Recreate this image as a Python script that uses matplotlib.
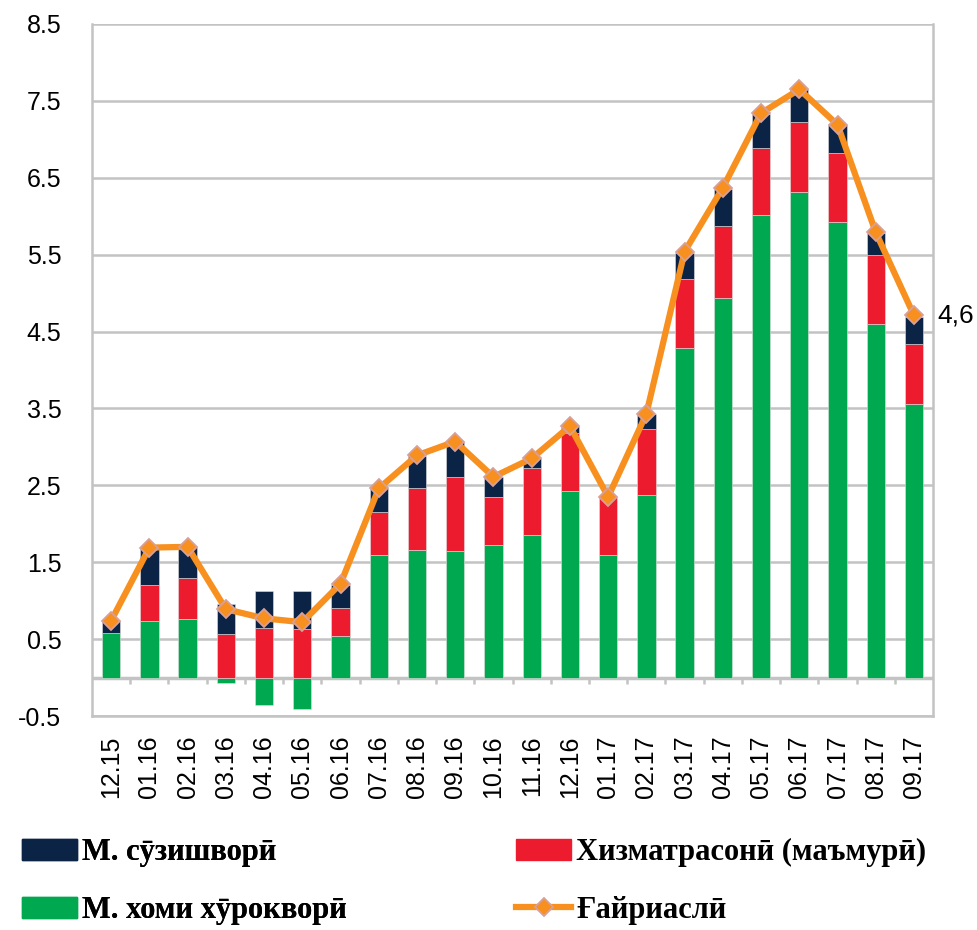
# inflation decomposition: stacked bars + non-core line
import matplotlib
matplotlib.use("Agg")
import matplotlib.pyplot as plt
from matplotlib.patches import Patch
from matplotlib.lines import Line2D
import numpy as np

months = ["12.15", "01.16", "02.16", "03.16", "04.16", "05.16", "06.16",
          "07.16", "08.16", "09.16", "10.16", "11.16", "12.16", "01.17",
          "02.17", "03.17", "04.17", "05.17", "06.17", "07.17", "08.17", "09.17"]

food = [0.58, 0.73, 0.76, -0.07, -0.36, -0.41, 0.54, 1.60, 1.66, 1.65, 1.73,
        1.85, 2.42, 1.60, 2.38, 4.28, 4.94, 6.02, 6.31, 5.92, 4.60, 3.56]
services = [0.00, 0.47, 0.54, 0.57, 0.65, 0.63, 0.37, 0.55, 0.81, 0.96, 0.62,
            0.88, 0.76, 0.75, 0.85, 0.90, 0.93, 0.87, 0.92, 0.90, 0.89, 0.78]
fuel = [0.16, 0.49, 0.40, 0.39, 0.48, 0.50, 0.30, 0.31, 0.41, 0.46, 0.26,
        0.12, 0.09, 0.00, 0.20, 0.34, 0.48, 0.44, 0.42, 0.36, 0.29, 0.35]
noncore = [0.74, 1.69, 1.70, 0.89, 0.77, 0.72, 1.22, 2.46, 2.89, 3.07, 2.61,
           2.85, 3.27, 2.35, 3.43, 5.54, 6.37, 7.34, 7.65, 7.19, 5.79, 4.71]
last_label = "4,6"

lbl_fuel = "М. сӯзишворӣ"
lbl_serv = "Хизматрасонӣ (маъмурӣ)"
lbl_food = "М. хоми хӯрокворӣ"
lbl_line = "Ғайриаслӣ"

c_navy = "#0b2344"
c_red = "#ec1c2e"
c_green = "#00a94f"
c_orange = "#f7901e"
c_grid = "#c3c3c3"

plt.rcParams['font.family'] = ['Liberation Sans', 'DejaVu Sans']

fig = plt.figure(figsize=(9.78, 9.30), dpi=100)
ax = fig.add_axes([0.0941, 0.2301, 0.860, 0.7441])

x = np.arange(len(months))
food = np.array(food)
services = np.array(services)
fuel = np.array(fuel)
base = np.clip(food, 0, None)
w = 0.48

ax.bar(x, food, w, color=c_green, edgecolor="#e0e0e0", linewidth=0.4, zorder=3)
ax.bar(x, services, w, bottom=base, color=c_red, edgecolor="#e0e0e0", linewidth=0.4, zorder=3)
ax.bar(x, fuel, w, bottom=base + services, color=c_navy, edgecolor="#e0e0e0", linewidth=0.4, zorder=3)
ax.plot(x, noncore, color=c_orange, linewidth=4.5, marker="D", markersize=9,
        markerfacecolor=c_orange, markeredgecolor="#d9a09a", markeredgewidth=1.3, zorder=4)

ax.text(x[-1] + 0.6, noncore[-1], last_label, fontsize=19, va="center", ha="left")

ax.set_xlim(-0.5, len(months) - 0.5)
ax.set_ylim(-0.5, 8.5)
ax.set_yticks(np.arange(-0.5, 8.6, 1.0))
ax.set_yticklabels([f"{v:.1f}" for v in np.arange(-0.5, 8.6, 1.0)])
ax.yaxis.grid(True, color=c_grid, linewidth=1.8, zorder=0)
ax.set_axisbelow(True)
ax.tick_params(axis="y", length=0, pad=22, labelsize=18)
ax.set_xticks(x)
ax.set_xticklabels(months, rotation=90, fontsize=18)
ax.tick_params(axis="x", length=0, pad=14)

# zero line with small ticks between categories
ax.axhline(0, color=c_grid, linewidth=2.5, zorder=2)
ax.vlines(x[:-1] + 0.5, -0.09, 0, color=c_grid, linewidth=1.8, zorder=2)

for s in ax.spines.values():
    s.set_color(c_grid)
    s.set_linewidth(1.8)
ax.spines["top"].set_visible(False)

leg_font = dict(family=['Liberation Serif', 'DejaVu Serif'], weight='bold', size=22)
h_navy = Patch(color=c_navy)
h_red = Patch(color=c_red)
h_green = Patch(color=c_green)
h_line = Line2D([], [], color=c_orange, linewidth=4.5, marker="D", markersize=9,
                markerfacecolor=c_orange, markeredgecolor="#d9a09a", markeredgewidth=1.3)

leg1 = fig.legend([h_navy, h_green], [lbl_fuel, lbl_food], loc="upper left",
                  bbox_to_anchor=(0.0225, 0.099), frameon=False, prop=leg_font,
                  borderpad=0, borderaxespad=0, handlelength=1.8, handletextpad=0.15,
                  labelspacing=0.95)
leg2 = fig.legend([h_red, h_line], [lbl_serv, lbl_line], loc="upper left",
                  bbox_to_anchor=(0.528, 0.099), frameon=False, prop=leg_font,
                  borderpad=0, borderaxespad=0, handlelength=1.8, handletextpad=0.15,
                  labelspacing=0.95)
fig.add_artist(leg1)

fig.savefig("out.png", dpi=100)
